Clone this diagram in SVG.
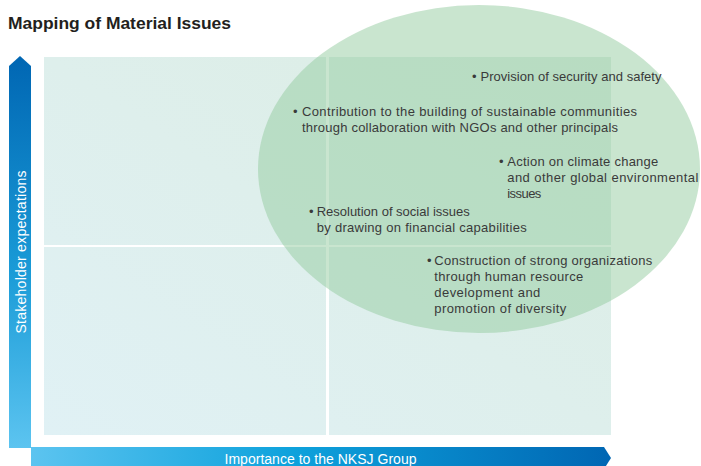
<svg xmlns="http://www.w3.org/2000/svg" width="701" height="466" viewBox="0 0 701 466">
  <defs>
    <linearGradient id="gV" x1="0" y1="0" x2="0" y2="1">
      <stop offset="0" stop-color="#0066b3"/>
      <stop offset="0.55" stop-color="#1a9bd7"/>
      <stop offset="1" stop-color="#5cc4f0"/>
    </linearGradient>
    <linearGradient id="gH" x1="0" y1="0" x2="1" y2="0">
      <stop offset="0" stop-color="#5cc4f0"/>
      <stop offset="0.45" stop-color="#0ea2dc"/>
      <stop offset="1" stop-color="#0066b3"/>
    </linearGradient>
    <linearGradient id="gBg" x1="0" y1="1" x2="1" y2="0">
      <stop offset="0" stop-color="#e0f1f5"/>
      <stop offset="1" stop-color="#dcede3"/>
    </linearGradient>
    <style>
      .t{font-family:"Liberation Sans",Arial,sans-serif;font-size:13px;fill:#3a3a3a}
      .ax{font-family:"Liberation Sans",Arial,sans-serif;font-size:14px;fill:#ffffff}
      .div{fill:#ffffff}
    </style>
  </defs>
  <rect width="701" height="466" fill="#ffffff"/>
  <text x="8" y="29" style="font-family:'Liberation Sans',Arial,sans-serif;font-size:16px;font-weight:bold;fill:#231f20" textLength="223" lengthAdjust="spacingAndGlyphs">Mapping of Material Issues</text>

  <g id="grid">
    <rect x="44" y="57" width="567" height="378" fill="url(#gBg)"/>
    <rect class="div" x="326" y="57" width="3" height="378"/>
    <rect class="div" x="44" y="245" width="567" height="2"/>
  </g>

  <g id="cluster">
    <ellipse cx="479" cy="169" rx="221" ry="164" fill="#93cba0" fill-opacity="0.5"/>
  </g>

  <g id="axes">
    <g id="axis-y">
      <polygon points="9,66 20,56 31,66 31,448 9,448" fill="url(#gV)"/>
      <text class="ax" transform="translate(26,252) rotate(-90)" text-anchor="middle" textLength="163" lengthAdjust="spacing">Stakeholder expectations</text>
    </g>
    <g id="axis-x">
      <polygon points="31,447 604,447 611,458 604,469 31,469" fill="url(#gH)"/>
      <text class="ax" x="224.5" y="464" textLength="192" lengthAdjust="spacing">Importance to the NKSJ Group</text>
    </g>
  </g>

  <g id="issue-security">
    <text class="t" x="472" y="81">•</text>
    <text class="t" x="480.5" y="81" textLength="181" lengthAdjust="spacing">Provision of security and safety</text>
  </g>
  <g id="issue-communities">
    <text class="t" x="293" y="116">•</text>
    <text class="t" x="302" y="116" textLength="335" lengthAdjust="spacing">Contribution to the building of sustainable communities</text>
    <text class="t" x="302" y="132" textLength="316" lengthAdjust="spacing">through collaboration with NGOs and other principals</text>
  </g>
  <g id="issue-climate">
    <text class="t" x="499" y="166">•</text>
    <text class="t" x="507.3" y="166" textLength="151" lengthAdjust="spacing">Action on climate change</text>
    <text class="t" x="507.3" y="182" textLength="191" lengthAdjust="spacing">and other global environmental</text>
    <text class="t" x="507.3" y="198" textLength="34" lengthAdjust="spacing">issues</text>
  </g>
  <g id="issue-social">
    <text class="t" x="309" y="216">•</text>
    <text class="t" x="316.7" y="216" textLength="153" lengthAdjust="spacing">Resolution of social issues</text>
    <text class="t" x="316.7" y="232" textLength="210" lengthAdjust="spacing">by drawing on financial capabilities</text>
  </g>
  <g id="issue-organizations">
    <text class="t" x="427" y="265">•</text>
    <text class="t" x="434.3" y="265" textLength="218" lengthAdjust="spacing">Construction of strong organizations</text>
    <text class="t" x="434.3" y="281" textLength="149" lengthAdjust="spacing">through human resource</text>
    <text class="t" x="434.3" y="297" textLength="106" lengthAdjust="spacing">development and</text>
    <text class="t" x="434.3" y="313" textLength="132" lengthAdjust="spacing">promotion of diversity</text>
  </g>
</svg>
